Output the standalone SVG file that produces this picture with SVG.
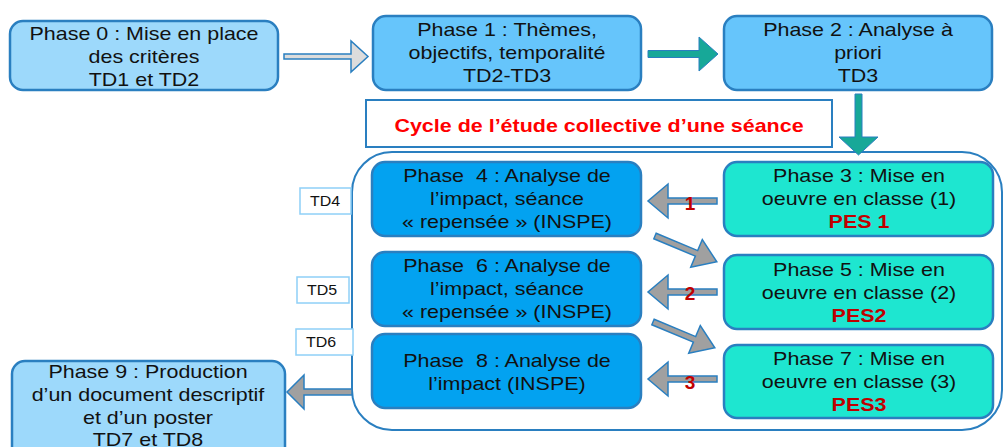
<svg xmlns="http://www.w3.org/2000/svg" width="1003" height="447" viewBox="0 0 1003 447">
<style>
.n{stroke:#2a7fc0;stroke-width:2.5}
.p0{fill:#9dd9fb}
.p1{fill:#66c5fb}
.pa{fill:#03a2f0}
.pm{fill:#1ee6d0}
.t{font-family:"Liberation Sans",Arial,sans-serif;font-size:19px;fill:#111;text-anchor:middle}
.r{fill:#c00000;font-weight:bold}
.td{font-family:"Liberation Sans",Arial,sans-serif;font-size:14px;fill:#111;text-anchor:middle}
.tdb{fill:#fff;stroke:#8fd0f7;stroke-width:1.5}
.ga{fill:#a0a0a0;stroke:#2a7fc0;stroke-width:1.5}
.num{font-family:"Liberation Sans",Arial,sans-serif;font-size:19px;font-weight:bold;fill:#c00000;text-anchor:middle}
</style>

<g id="cycle-container">
<rect x="352" y="152" width="650" height="278" rx="40" fill="#fff" stroke="#2a7fc0" stroke-width="2"/>
</g>

<g id="cycle-title">
<rect x="366" y="100" width="466" height="47" fill="#fff" stroke="#2a7fc0" stroke-width="2"/>
<text class="t" transform="translate(599 0) scale(1.13 1)" style="font-weight:bold;fill:#ff0000"><tspan x="0" y="132">Cycle de l’étude collective d’une séance</tspan></text>
</g>

<g id="phase0">
<rect class="n p0" x="10" y="21" width="268" height="69" rx="13"/>
<text class="t" transform="translate(144 0) scale(1.13 1)"><tspan x="0" y="40">Phase 0 : Mise en place</tspan><tspan x="0" y="63">des critères</tspan><tspan x="0" y="86">TD1 et TD2</tspan></text>
</g>

<g id="phase1">
<rect class="n p1" x="373" y="16" width="268" height="74" rx="13"/>
<text class="t" transform="translate(507 0) scale(1.13 1)"><tspan x="0" y="36">Phase 1 : Thèmes,</tspan><tspan x="0" y="59">objectifs, temporalité</tspan><tspan x="0" y="82">TD2-TD3</tspan></text>
</g>

<g id="phase2">
<rect class="n p1" x="724" y="16" width="268" height="74" rx="13"/>
<text class="t" transform="translate(858 0) scale(1.13 1)"><tspan x="0" y="36">Phase 2 : Analyse à</tspan><tspan x="0" y="59">priori</tspan><tspan x="0" y="82">TD3</tspan></text>
</g>

<g id="phase4">
<rect class="n pa" x="372" y="162" width="269" height="74" rx="13"/>
<text class="t" transform="translate(507 0) scale(1.13 1)"><tspan x="0" y="182">Phase&#160; 4 : Analyse de</tspan><tspan x="0" y="205">l’impact, séance</tspan><tspan x="0" y="228">« repensée » (INSPE)</tspan></text>
</g>

<g id="phase6">
<rect class="n pa" x="372" y="252" width="269" height="74" rx="13"/>
<text class="t" transform="translate(507 0) scale(1.13 1)"><tspan x="0" y="272">Phase&#160; 6 : Analyse de</tspan><tspan x="0" y="295">l’impact, séance</tspan><tspan x="0" y="318">« repensée » (INSPE)</tspan></text>
</g>

<g id="phase8">
<rect class="n pa" x="372" y="334" width="269" height="74" rx="13"/>
<text class="t" transform="translate(507 0) scale(1.13 1)"><tspan x="0" y="367">Phase&#160; 8 : Analyse de</tspan><tspan x="0" y="390">l’impact (INSPE)</tspan></text>
</g>

<g id="phase3">
<rect class="n pm" x="724" y="162" width="269" height="74" rx="13"/>
<text class="t" transform="translate(859 0) scale(1.13 1)"><tspan x="0" y="182">Phase 3 : Mise en</tspan><tspan x="0" y="205">oeuvre en classe (1)</tspan><tspan x="0" y="228" class="r">PES 1</tspan></text>
</g>

<g id="phase5">
<rect class="n pm" x="724" y="255" width="269" height="74" rx="13"/>
<text class="t" transform="translate(859 0) scale(1.13 1)"><tspan x="0" y="276">Phase 5 : Mise en</tspan><tspan x="0" y="299">oeuvre en classe (2)</tspan><tspan x="0" y="322" class="r">PES2</tspan></text>
</g>

<g id="phase7">
<rect class="n pm" x="724" y="345" width="269" height="73" rx="13"/>
<text class="t" transform="translate(859 0) scale(1.13 1)"><tspan x="0" y="365">Phase 7 : Mise en</tspan><tspan x="0" y="388">oeuvre en classe (3)</tspan><tspan x="0" y="411" class="r">PES3</tspan></text>
</g>

<g id="phase9">
<rect class="n p0" x="12" y="361" width="273" height="100" rx="13"/>
<text class="t" transform="translate(148 0) scale(1.13 1)"><tspan x="0" y="378">Phase 9 : Production</tspan><tspan x="0" y="401">d’un document descriptif</tspan><tspan x="0" y="424">et d’un poster</tspan><tspan x="0" y="446">TD7 et TD8</tspan></text>
</g>

<g id="td4"><rect class="tdb" x="300" y="188" width="51" height="26"/><text class="td" transform="translate(325 0) scale(1.14 1)"><tspan x="0" y="206">TD4</tspan></text></g>
<g id="td5"><rect class="tdb" x="297" y="277" width="52" height="26"/><text class="td" transform="translate(322 0) scale(1.14 1)"><tspan x="0" y="295">TD5</tspan></text></g>
<g id="td6"><rect class="tdb" x="296" y="329" width="57" height="26"/><text class="td" transform="translate(321 0) scale(1.14 1)"><tspan x="0" y="347">TD6</tspan></text></g>

<g id="connectors">
<polygon points="284,54 351,54 351,41 368,56.5 351,72 351,59 284,59" fill="#dcdcdc" stroke="#2a7fc0" stroke-width="1.5"/>
<polygon points="648,50.5 699,50.5 699,37 718,54 699,71 699,57.5 648,57.5" fill="#17a898" stroke="#2a7fc0" stroke-width="1"/>
<polygon points="855,94 862,94 862,137 878,137 858.5,155 839,137 855,137" fill="#17a898" stroke="#2a7fc0" stroke-width="1"/>
<polygon class="ga" points="717,198 668,198 668,184 648,201 668,218 668,204 717,204"/>
<polygon class="ga" points="717,289 668,289 668,275 648,292 668,309 668,295 717,295"/>
<polygon class="ga" points="717,376 668,376 668,362 648,379 668,396 668,382 717,382"/>
<polygon class="ga" transform="translate(655 236) rotate(22.7)" points="0,-3 45,-3 45,-15 67,0 45,15 45,3 0,3"/>
<polygon class="ga" transform="translate(653 322) rotate(22.7)" points="0,-3 45,-3 45,-15 67,0 45,15 45,3 0,3"/>
<polygon class="ga" points="352,389 304,389 304,375 287,392 304,409 304,395 352,395"/>
<text class="num" x="690" y="210">1</text>
<text class="num" x="690" y="300">2</text>
<text class="num" x="690" y="389">3</text>
</g>
</svg>
